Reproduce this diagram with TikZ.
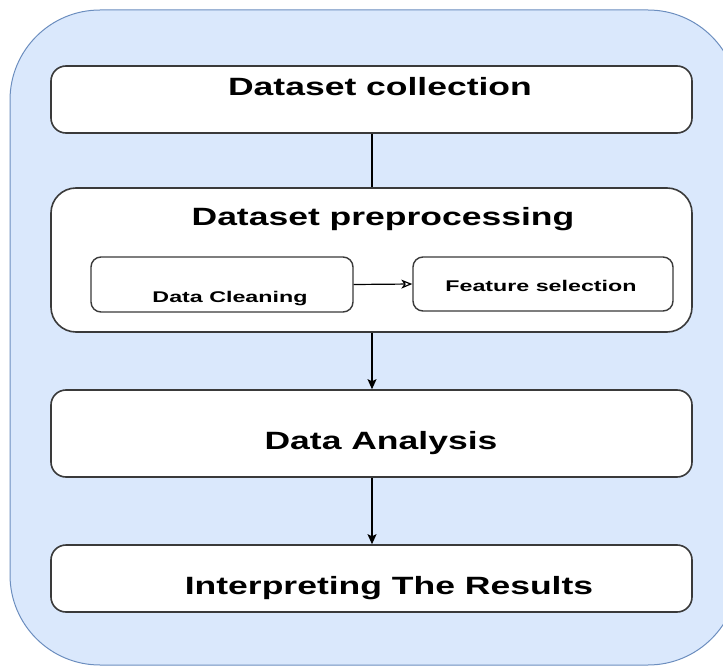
\documentclass[tikz,border=0pt]{standalone}
\usepackage{fontspec}
\setmainfont{Liberation Sans}
\usetikzlibrary{arrows.meta}
\definecolor{bgfill}{HTML}{DAE8FC}
\definecolor{bgline}{HTML}{6C8EBF}
\definecolor{boxline}{HTML}{3A3A3A}
\newcommand{\bigtxt}[1]{\scalebox{1.42}[1]{\fontsize{25}{30}\selectfont\bfseries #1}}
\newcommand{\smalltxt}[1]{\scalebox{1.5}[1]{\fontsize{15.5}{18}\selectfont\bfseries #1}}
\tikzset{
  stagebox/.style={draw=boxline, line width=1.6pt, fill=white, rounded corners=15pt, inner sep=0pt, minimum width=641pt},
  groupbox/.style={stagebox, rounded corners=25pt},
  subbox/.style={draw=boxline, line width=1.4pt, fill=white, rounded corners=10pt, inner sep=0pt},
  label/.style={inner sep=0pt, anchor=base},
  flow/.style={draw=black, line width=1.2pt},
}
\begin{document}
\begin{tikzpicture}[x=1pt,y=-1pt]
\useasboundingbox (0,0) rectangle (723,666);
\clip (0,0) rectangle (723,666);
\path[fill=bgfill, draw=bgline, line width=1pt, rounded corners=90pt] (10,10) rectangle (738,665);

\node[stagebox, minimum height=67pt] (b1) at (371.5,99.5) {};
\node[groupbox, minimum height=144pt] (b2) at (371.5,260) {};
\node[subbox, minimum width=262pt, minimum height=55pt] (dc) at (222,284.5) {};
\node[subbox, minimum width=260pt, minimum height=54pt] (fs) at (543,284) {};
\node[stagebox, minimum height=87pt] (b3) at (371.5,433.5) {};
\node[stagebox, minimum height=67pt] (b4) at (371.5,578.5) {};

\node[label] (t1) at (380,96) {\bigtxt{Dataset collection}};
\node[label] (t2) at (383,225) {\bigtxt{Dataset preprocessing}};
\node[label] (tdc) at (230,302) {\smalltxt{Data Cleaning}};
\node[label] (tfs) at (541,291) {\smalltxt{Feature selection}};
\node[label] (t3) at (381,449) {\bigtxt{Data Analysis}};
\node[label] (t4) at (389,594) {\bigtxt{Interpreting The Results}};

\draw[flow] (b1.south -| 372,0) -- (b2.north -| 372,0);
\draw[flow, -{Stealth[open, length=11pt, width=9pt, inset=3pt]}] (dc.east) -- (fs.west);
\draw[flow, -{Stealth[length=10pt, width=9pt, inset=2pt]}] (b2.south -| 372,0) -- (b3.north -| 372,0);
\draw[flow, -{Stealth[length=10pt, width=9pt, inset=2pt]}] (b3.south -| 372,0) -- (b4.north -| 372,0);
\end{tikzpicture}
\end{document}
